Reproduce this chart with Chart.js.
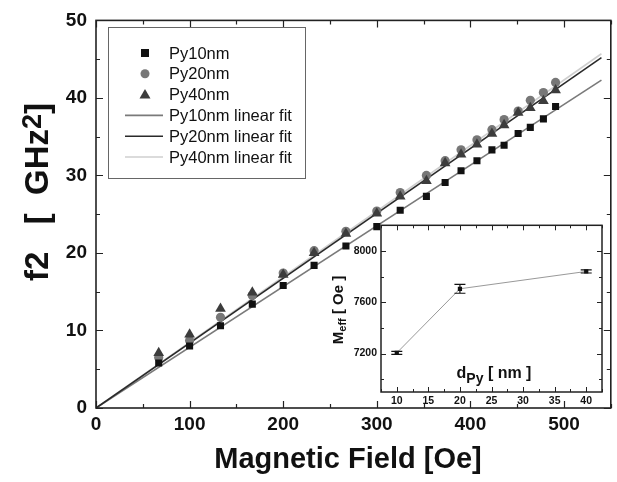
<!DOCTYPE html>
<html><head><meta charset="utf-8">
<script src="https://cdn.jsdelivr.net/npm/chart.js@4/dist/chart.umd.min.js"></script>
<style>
html,body{margin:0;padding:0;background:#fff;}
#wrap{position:relative;width:617px;height:482px;overflow:hidden;}
#main{position:absolute;left:0;top:0;}
#inset{position:absolute;left:300px;top:215px;}
</style></head><body>
<div id="wrap">
<canvas id="main" width="617" height="482"></canvas>
<canvas id="inset" width="310" height="200"></canvas>
</div>
<script>
// ---- main plot data ----
const fieldOe = [67,100,133,167,200,233,267,300,325,353,373,390,407,423,436,451,464,478,491];
const py10 = [5.8,8.0,10.6,13.4,15.8,18.4,20.9,23.4,25.5,27.3,29.1,30.6,31.9,33.3,33.9,35.4,36.2,37.3,38.9];
const py20 = [6.5,8.7,11.7,14.5,17.4,20.3,22.8,25.4,27.8,30.0,31.9,33.3,34.6,35.9,37.2,38.3,39.7,40.7,42.0];
const py40 = [7.1,9.5,12.8,14.9,17.2,20.0,22.5,25.1,27.3,29.3,31.6,32.7,34.0,35.4,36.5,38.1,38.7,39.6,41.0];
const fitField = [0,540];
const fit10 = [0,42.3];
const fit20 = [0,45.2];
const fit40 = [0,45.7];
const xTicks = [0,100,200,300,400,500];
const yTicks = [0,10,20,30,40,50];
const seriesLabels = ['Py10nm','Py20nm','Py40nm','Py10nm linear fit','Py20nm linear fit','Py40nm linear fit'];
// ---- inset data ----
const thicknessNm = [10,20,40];
const meffOe = [7205,7705,7840];
const meffErr = [12,35,12];
const insetXTicks = [10,15,20,25,30,35,40];
const insetYTicks = [7200,7600,8000];

const pts = (xs, ys) => xs.map((x,i)=>({x:x, y:ys[i]}));
const FONT = "'Liberation Sans', Arial, sans-serif";

function drawInwardTicks(chart, opts){
  const {ctx, chartArea:a, scales:{x, y}} = chart;
  ctx.save();
  ctx.strokeStyle = opts.color; ctx.lineWidth = opts.lw;
  ctx.beginPath();
  const xs = [], ys = [];
  opts.xMajor.forEach(v=>xs.push([v,opts.majLen]));
  opts.yMajor.forEach(v=>ys.push([v,opts.majLen]));
  for (let v = opts.xMin0; v <= x.max + 1e-9; v += opts.xMinorStep) xs.push([v,opts.minLen]);
  for (let v = opts.yMin0; v <= y.max + 1e-9; v += opts.yMinorStep) ys.push([v,opts.minLen]);
  xs.forEach(([v,l])=>{
    if (v < x.min || v > x.max) return;
    const px = Math.round(x.getPixelForValue(v))+0.5;
    ctx.moveTo(px, a.bottom); ctx.lineTo(px, a.bottom - l);
    ctx.moveTo(px, a.top); ctx.lineTo(px, a.top + l);
  });
  ys.forEach(([v,l])=>{
    if (v < y.min || v > y.max) return;
    const py = Math.round(y.getPixelForValue(v))+0.5;
    ctx.moveTo(a.left, py); ctx.lineTo(a.left + l, py);
    ctx.moveTo(a.right, py); ctx.lineTo(a.right - l, py);
  });
  ctx.stroke();
  ctx.lineWidth = opts.frameLw;
  ctx.strokeRect(a.left, a.top, a.right - a.left, a.bottom - a.top);
  ctx.restore();
}

function drawParts(ctx, parts, centerX, baseY){
  let total = 0;
  parts.forEach(p=>{ ctx.font = p[1]; total += ctx.measureText(p[0]).width; });
  let cx = centerX - total/2;
  parts.forEach(p=>{ ctx.font = p[1]; ctx.fillText(p[0], cx, baseY + p[2]); cx += ctx.measureText(p[0]).width; });
}

const mainFrame = {
  id:'mainFrame',
  afterDatasetsDraw(chart){
    drawInwardTicks(chart, {color:'#222', lw:1.2, frameLw:1.6, majLen:7, minLen:4,
      xMajor:xTicks, yMajor:yTicks, xMin0:50, xMinorStep:100, yMin0:5, yMinorStep:10});
  }
};

const mainLegend = {
  id:'mainLegend',
  afterDraw(chart){
    const ctx = chart.ctx;
    const ds = chart.data.datasets;
    ctx.save();
    ctx.fillStyle = '#fff';
    ctx.fillRect(108, 27, 197, 151);
    ctx.strokeStyle = '#666'; ctx.lineWidth = 1;
    ctx.strokeRect(108.5, 27.5, 197, 151);
    ctx.font = '16.5px ' + FONT;
    ctx.textBaseline = 'middle';
    ds.forEach((d, i)=>{
      const yy = 53 + i * 20.8;
      if (d.showLine) {
        ctx.strokeStyle = d.borderColor; ctx.lineWidth = d.borderWidth;
        ctx.beginPath(); ctx.moveTo(125, yy); ctx.lineTo(163, yy); ctx.stroke();
      } else {
        ctx.fillStyle = d.backgroundColor;
        ctx.beginPath();
        if (d.pointStyle === 'rect') ctx.rect(141, yy-4, 8, 8);
        else if (d.pointStyle === 'circle') ctx.arc(145, yy, 4.5, 0, Math.PI*2);
        else { ctx.moveTo(145, yy-5.5); ctx.lineTo(150.5, yy+4); ctx.lineTo(139.5, yy+4); ctx.closePath(); }
        ctx.fill();
      }
      ctx.fillStyle = '#111';
      ctx.fillText(d.label, 169, yy + 1);
    });
    ctx.restore();
  }
};

const mainTitles = {
  id:'mainTitles',
  afterDraw(chart){
    const ctx = chart.ctx;
    ctx.save();
    ctx.fillStyle = '#111';
    ctx.font = 'bold 29px ' + FONT;
    ctx.textAlign = 'center'; ctx.textBaseline = 'alphabetic';
    ctx.fillText('Magnetic Field [Oe]', 348, 468);
    // y title rotated
    ctx.translate(48, 192);
    ctx.rotate(-Math.PI/2);
    ctx.textAlign = 'left';
    const big = 'bold 33px ' + FONT, sup = 'bold 27px ' + FONT;
    drawParts(ctx, [['f2', big, 0], ['   [  ', big, 0], ['GHz', big, 0], ['2', sup, -7], [']', big, 0]], 0, 0);
    ctx.restore();
  }
};

const tickFont = {family:FONT, weight:'bold', size:19};

new Chart(document.getElementById('main'), {
  type:'scatter',
  data:{datasets:[
    {label:seriesLabels[0], data:pts(fieldOe,py10), pointStyle:'rect', pointRadius:5, backgroundColor:'#111', borderColor:'#111', borderWidth:0, order:1},
    {label:seriesLabels[1], data:pts(fieldOe,py20), pointStyle:'circle', pointRadius:4.6, backgroundColor:'#777', borderColor:'#777', borderWidth:0, order:3},
    {label:seriesLabels[2], data:pts(fieldOe,py40), pointStyle:'triangle', pointRadius:6.2, backgroundColor:'#3c3c3c', borderColor:'#3c3c3c', borderWidth:0, order:2},
    {label:seriesLabels[3], data:pts(fitField,fit10), showLine:true, pointRadius:0, borderColor:'#7a7a7a', backgroundColor:'#7a7a7a', borderWidth:1.6, order:6},
    {label:seriesLabels[4], data:pts(fitField,fit20), showLine:true, pointRadius:0, borderColor:'#2a2a2a', backgroundColor:'#2a2a2a', borderWidth:1.6, order:5},
    {label:seriesLabels[5], data:pts(fitField,fit40), showLine:true, pointRadius:0, borderColor:'#cfcfcf', backgroundColor:'#cfcfcf', borderWidth:1.6, order:7}
  ]},
  options:{
    responsive:false, animation:false, devicePixelRatio:1,
    layout:{padding:{left:0, top:14, right:6, bottom:0}},
    plugins:{legend:{display:false}, tooltip:{enabled:false}},
    scales:{
      x:{type:'linear', min:0, max:550,
        afterBuildTicks:s=>{ s.ticks = xTicks.map(v=>({value:v})); },
        afterFit:s=>{ s.height = 74; },
        grid:{display:false, drawTicks:false}, border:{display:false},
        ticks:{font:tickFont, color:'#111', padding:5, maxRotation:0, autoSkip:false, callback:v=>String(v)}},
      y:{type:'linear', min:0, max:50,
        afterBuildTicks:s=>{ s.ticks = yTicks.map(v=>({value:v})); },
        afterFit:s=>{ s.width = 96; },
        grid:{display:false, drawTicks:false}, border:{display:false},
        ticks:{font:tickFont, color:'#111', padding:9, autoSkip:false, callback:v=>String(v)}}
    }
  },
  plugins:[mainFrame, mainLegend, mainTitles]
});

// ---- inset ----
const insetBg = {
  id:'insetBg',
  beforeDraw(chart){
    const {ctx, chartArea:a} = chart;
    ctx.save(); ctx.fillStyle = '#fff';
    ctx.fillRect(a.left, a.top, a.right-a.left, a.bottom-a.top);
    ctx.restore();
  },
  afterDatasetsDraw(chart){
    const {ctx, scales:{x, y}} = chart;
    ctx.save();
    ctx.strokeStyle = '#111'; ctx.lineWidth = 1.2;
    ctx.beginPath();
    thicknessNm.forEach((t,i)=>{
      const px = x.getPixelForValue(t);
      const y1 = y.getPixelForValue(meffOe[i]-meffErr[i]);
      const y2 = y.getPixelForValue(meffOe[i]+meffErr[i]);
      ctx.moveTo(px, y1); ctx.lineTo(px, y2);
      ctx.moveTo(px-5.5, y1); ctx.lineTo(px+5.5, y1);
      ctx.moveTo(px-5.5, y2); ctx.lineTo(px+5.5, y2);
    });
    ctx.stroke();
    ctx.restore();
    drawInwardTicks(chart, {color:'#222', lw:1, frameLw:1.5, majLen:5, minLen:3,
      xMajor:insetXTicks, yMajor:insetYTicks, xMin0:7.5, xMinorStep:5, yMin0:7000, yMinorStep:400});
    ctx.save();
    ctx.fillStyle = '#111';
    ctx.textBaseline = 'alphabetic';
    ctx.textAlign = 'left';
    const big = 'bold 16px ' + FONT, sub = 'bold 14px ' + FONT;
    drawParts(ctx, [['d', big, 0], ['Py', sub, 5], [' [ nm ]', big, 0]], 194, 163);
    ctx.translate(43, 95);
    ctx.rotate(-Math.PI/2);
    const yb = 'bold 15px ' + FONT, ys = 'bold 11px ' + FONT;
    drawParts(ctx, [['M', yb, 0], ['eff', ys, 3], [' [ Oe ]', yb, 0]], 0, 0);
    ctx.restore();
  }
};

const insetTickFont = {family:FONT, weight:'bold', size:10.5};
new Chart(document.getElementById('inset'), {
  type:'scatter',
  data:{datasets:[
    {label:'Meff', data:pts(thicknessNm, meffOe), showLine:true, borderColor:'#999', borderWidth:1,
     pointStyle:'rect', pointRadius:3, pointBackgroundColor:'#111', pointBorderColor:'#111', pointBorderWidth:0}
  ]},
  options:{
    responsive:false, animation:false, devicePixelRatio:1,
    layout:{padding:{left:0, top:10, right:8, bottom:0}},
    plugins:{legend:{display:false}, tooltip:{enabled:false}},
    scales:{
      x:{type:'linear', min:7.5, max:42.5,
        afterBuildTicks:s=>{ s.ticks = insetXTicks.map(v=>({value:v})); },
        afterFit:s=>{ s.height = 23; },
        grid:{display:false, drawTicks:false}, border:{display:false},
        ticks:{font:insetTickFont, color:'#111', padding:3, maxRotation:0, autoSkip:false, callback:v=>String(v)}},
      y:{type:'linear', min:6900, max:8200,
        afterBuildTicks:s=>{ s.ticks = insetYTicks.map(v=>({value:v})); },
        afterFit:s=>{ s.width = 81; },
        grid:{display:false, drawTicks:false}, border:{display:false},
        ticks:{font:insetTickFont, color:'#111', padding:4, autoSkip:false, callback:v=>String(v)}}
    }
  },
  plugins:[insetBg]
});
</script>
</body></html>
